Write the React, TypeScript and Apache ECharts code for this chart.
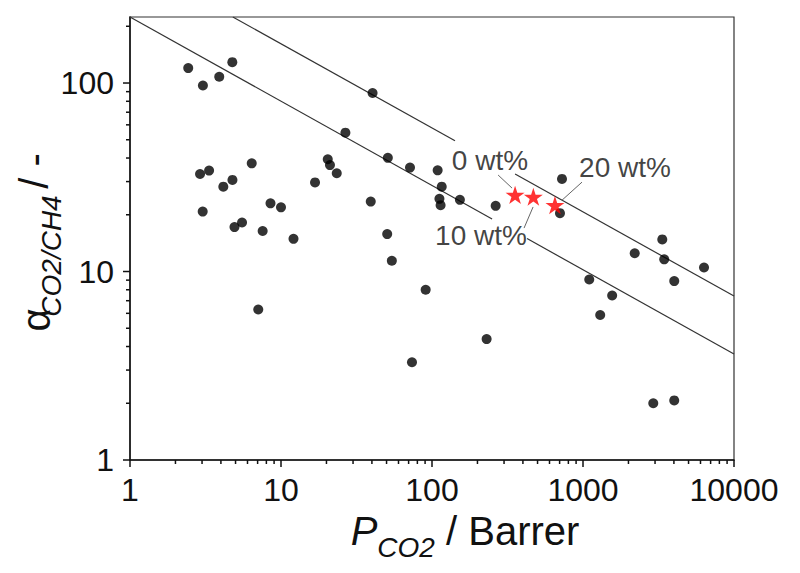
import React, { useEffect, useRef } from 'react';
import * as echarts from 'echarts';

// ---- Axis ranges & tick labels ----
const X_MIN = 1;
const X_MAX = 10000;
const Y_MIN = 1;
const Y_MAX = 224;
const xMajorTicks = [1, 10, 100, 1000, 10000];
const yMajorTicks = [1, 10, 100];
const minorMultipliers = [2, 3, 4, 5, 6, 7, 8, 9];
const xMinorDecades = [1, 10, 100, 1000];
const yMinorDecades = [1, 10, 100];

// ---- Literature data (black dots) ----
const literaturePCO2 = [
  2.43, 3.04, 3.9, 4.76, 6.4, 2.91, 3.34, 4.77, 4.15, 3.03,
  8.52, 10, 4.92, 5.52, 7.56, 12.1, 16.8, 20.4, 21.1, 23.4,
  26.7, 40.4, 51, 71.5, 109, 116, 112, 114, 153, 264,
  39.3, 50.5, 54.2, 90.8, 230, 73.7, 7.07, 726, 704, 3350,
  2200, 3450, 6330, 4020, 1100, 1560, 1300, 2920, 4020,
];
const literatureAlpha = [
  120, 97, 108, 129, 37.5, 32.9, 34.3, 30.6, 28.2, 20.8,
  23, 21.9, 17.2, 18.2, 16.4, 14.9, 29.7, 39.4, 36.7, 33.2,
  54.5, 88.5, 40.1, 35.6, 34.4, 28.2, 24.3, 22.5, 24, 22.3,
  23.5, 15.8, 11.4, 8.0, 4.38, 3.3, 6.29, 31, 20.4, 14.8,
  12.5, 11.6, 10.5, 8.9, 9.07, 7.46, 5.88, 2.0, 2.07,
];

// ---- This work (red stars) ----
const membraneLabels = ['0 wt%', '10 wt%', '20 wt%'];
const membranePCO2 = [355, 469, 652];
const membraneAlpha = [25.5, 24.9, 22.5];

// ---- Upper bound lines (segments, gaps where labels sit) ----
const lowerBoundSegments: number[][][] = [
  [[1, 224], [250, 18.99]],
  [[426, 14.96], [10000, 3.65]],
];
const upperBoundSegments: number[][][] = [
  [[4.8, 224], [142, 49.4]],
  [[355, 32.9], [10000, 7.41]],
];

// ---- Annotations ----
const annotationText = ['0 wt%', '20 wt%', '10 wt%'];
const annotationPCO2 = [242, 1897, 211];
const annotationAlpha = [39.0, 35.6, 15.6];
const leaderSegments: number[][][] = [
  [[274, 32.5], [339, 27.7]],
  [[985, 29.8], [726, 23.9]],
  [[467, 22.0], [407, 17.0]],
];

const FONT = "'Liberation Sans', Arial, sans-serif";
const STAR =
  'path://M50,0 L61.2,34.5 L97.6,34.5 L68.2,55.9 L79.4,90.5 L50,69.1 L20.6,90.5 L31.8,55.9 L2.4,34.5 L38.8,34.5 Z';

const isDecade = (v: number) => {
  const l = Math.log10(v);
  return Math.abs(l - Math.round(l)) < 1e-6;
};

export default function App() {
  const ref = useRef<HTMLDivElement>(null);

  useEffect(() => {
    if (!ref.current) return;
    const chart = echarts.init(ref.current, undefined, { renderer: 'svg' });

    const xTickData: number[][] = [
      ...xMajorTicks.map((v) => [v, Y_MIN, 1]),
      ...xMinorDecades.flatMap((d) => minorMultipliers.map((m) => [m * d, Y_MIN, 0])),
    ];
    const yTickData: number[][] = [
      ...yMajorTicks.map((v) => [X_MIN, v, 1]),
      ...yMinorDecades
        .flatMap((d) => minorMultipliers.map((m) => m * d))
        .filter((v) => v < Y_MAX)
        .map((v) => [X_MIN, v, 0]),
    ];

    const lineSeries = (segs: number[][][], color: string, width: number) =>
      segs.map((seg) => ({
        type: 'line',
        data: seg,
        symbol: 'none',
        silent: true,
        lineStyle: { color, width },
        z: 3,
      }));

    const yTitleStyle = (text: string, size: number, italic: boolean) => ({
      text,
      fontSize: size,
      fontFamily: FONT,
      fontStyle: italic ? 'italic' : 'normal',
      fill: '#111',
      align: 'center',
      verticalAlign: 'middle',
    });

    const option: any = {
      animation: false,
      backgroundColor: '#ffffff',
      grid: {
        left: 130,
        right: 66,
        top: 17,
        bottom: 113,
        show: true,
        borderColor: '#333',
        borderWidth: 1.2,
        containLabel: false,
        outerBoundsMode: 'none',
      },
      graphic: [
        { type: 'text', x: 36, y: 320, rotation: Math.PI / 2, silent: true, style: yTitleStyle('α', 40, false) },
        { type: 'text', x: 51, y: 256, rotation: Math.PI / 2, silent: true, style: yTitleStyle('CO2/CH4', 28, true) },
        { type: 'text', x: 34, y: 171, rotation: Math.PI / 2, silent: true, style: yTitleStyle('/ -', 40, false) },
      ],
      xAxis: {
        type: 'log',
        logBase: 10,
        min: X_MIN,
        max: X_MAX,
        axisLine: { show: true, onZero: false, lineStyle: { color: '#111', width: 1.5 } },
        axisTick: { show: false },
        splitLine: { show: false },
        axisLabel: {
          fontSize: 32,
          color: '#111',
          fontFamily: FONT,
          margin: 14,
          formatter: (v: number) => (isDecade(v) ? String(Math.round(v)) : ''),
        },
        name: '{i|P}{sub|CO2}{n| / Barrer}',
        nameLocation: 'middle',
        nameGap: 48,
        nameTextStyle: {
          padding: [0, 0, 0, 66],
          rich: {
            i: { fontSize: 40, lineHeight: 40, fontStyle: 'italic', fontFamily: FONT, color: '#111', verticalAlign: 'top' },
            sub: { fontSize: 28, lineHeight: 28, fontStyle: 'italic', fontFamily: FONT, color: '#111', padding: [23, 0, 0, 0], verticalAlign: 'top' },
            n: { fontSize: 40, lineHeight: 40, fontFamily: FONT, color: '#111', verticalAlign: 'top' },
          },
        },
      },
      yAxis: {
        type: 'log',
        logBase: 10,
        min: Y_MIN,
        max: Y_MAX,
        axisLine: { show: true, onZero: false, lineStyle: { color: '#111', width: 1.5 } },
        axisTick: { show: false },
        splitLine: { show: false },
        axisLabel: {
          fontSize: 32,
          color: '#111',
          fontFamily: FONT,
          margin: 16,
          formatter: (v: number) => (isDecade(v) ? String(Math.round(v)) : ''),
        },
      },
      series: [
        ...lineSeries(lowerBoundSegments, '#333', 1.2),
        ...lineSeries(upperBoundSegments, '#333', 1.2),
        ...lineSeries(leaderSegments, '#666', 1),
        {
          type: 'scatter',
          name: 'literature',
          data: literaturePCO2.map((x, i) => [x, literatureAlpha[i]]),
          symbol: 'circle',
          symbolSize: 10,
          itemStyle: { color: '#000' },
          z: 4,
        },
        {
          type: 'scatter',
          name: 'this work',
          data: membranePCO2.map((x, i) => ({ value: [x, membraneAlpha[i]], name: membraneLabels[i] })),
          symbol: STAR,
          symbolSize: 19,
          symbolKeepAspect: true,
          itemStyle: { color: '#ff0000' },
          z: 5,
        },
        {
          type: 'scatter',
          name: 'annotations',
          data: annotationPCO2.map((x, i) => ({ value: [x, annotationAlpha[i]], name: annotationText[i] })),
          symbolSize: 1,
          itemStyle: { color: 'rgba(0,0,0,0)' },
          silent: true,
          label: {
            show: true,
            position: 'inside',
            formatter: (p: any) => p.name,
            fontSize: 28,
            fontFamily: FONT,
            color: '#111',
          },
          z: 6,
        },
        {
          type: 'custom',
          coordinateSystem: 'cartesian2d',
          silent: true,
          clip: false,
          data: xTickData,
          encode: { x: 0, y: 1 },
          renderItem: (_p: any, api: any) => {
            const pt = api.coord([api.value(0), api.value(1)]);
            const len = api.value(2) ? 7 : 4;
            return {
              type: 'line',
              shape: { x1: pt[0], y1: pt[1], x2: pt[0], y2: pt[1] + len },
              style: { stroke: '#111', lineWidth: 1.5 },
            };
          },
          z: 10,
        },
        {
          type: 'custom',
          coordinateSystem: 'cartesian2d',
          silent: true,
          clip: false,
          data: yTickData,
          encode: { x: 0, y: 1 },
          renderItem: (_p: any, api: any) => {
            const pt = api.coord([api.value(0), api.value(1)]);
            const len = api.value(2) ? 7 : 4;
            return {
              type: 'line',
              shape: { x1: pt[0], y1: pt[1], x2: pt[0] - len, y2: pt[1] },
              style: { stroke: '#111', lineWidth: 1.5 },
            };
          },
          z: 10,
        },
      ],
    };

    chart.setOption(option);
    return () => chart.dispose();
  }, []);

  return <div ref={ref} style={{ width: 800, height: 573, position: 'absolute', left: 0, top: 0 }} />;
}
